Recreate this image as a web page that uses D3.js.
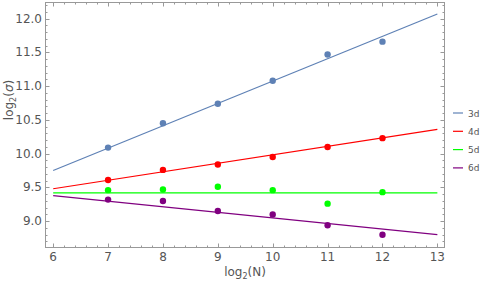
<!DOCTYPE html>
<html>
<head>
<meta charset="utf-8">
<script src="https://cdn.jsdelivr.net/npm/d3@7"></script>
<style>
body { margin: 0; background: #fff; }
text { font-family: "DejaVu Sans", sans-serif; }
</style>
</head>
<body>
<script>
var w = 481;
var h = 281;

var series = ["3d", "4d", "5d", "6d"];
var colors = ["#5e81b5", "#ff0000", "#00ff00", "#800080"];
var xs = [7, 8, 9, 10, 11, 12];
var vals = [
    [10.09, 10.45, 10.74, 11.08, 11.47, 11.66],
    [9.61, 9.76, 9.84, 9.95, 10.10, 10.23],
    [9.46, 9.47, 9.51, 9.46, 9.26, 9.43],
    [9.32, 9.30, 9.15, 9.10, 8.94, 8.80]
];
// fitted lines, value at x=6 and x=13
var fitX = [6, 13];
var fitStart = [9.75, 9.48, 9.42, 9.38];
var fitEnd = [12.07, 10.36, 9.42, 8.80];

var xTicks = [6, 7, 8, 9, 10, 11, 12, 13];
var yTicks = [9.0, 9.5, 10.0, 10.5, 11.0, 11.5, 12.0];

var svg = d3.select("body")
            .append("svg")
            .attr("width", w)
            .attr("height", h);

var x = d3.scaleLinear().domain([5.86, 13.13]).range([45.5, 444.5]);
var y = d3.scaleLinear().domain([8.61, 12.24]).range([247.5, 2.5]);

var axisCol = "#999";
var labCol = "#555";

// frame
svg.append("rect")
    .attr("x", x.range()[0]).attr("y", y.range()[1])
    .attr("width", x.range()[1] - x.range()[0])
    .attr("height", y.range()[0] - y.range()[1])
    .attr("fill", "none").attr("stroke", axisCol).attr("stroke-width", 1);

// minor/major ticks on all four sides, pointing inward
var xMinor = d3.range(5.8, 13.21, 0.2).filter(function(v){ return v >= 5.86 && v <= 13.13; });
var yMinor = d3.range(8.6, 12.25, 0.1).filter(function(v){ return v >= 8.61 && v <= 12.24; });
function isMajor(v, step) { return Math.abs(v / step - Math.round(v / step)) < 1e-6; }

var g = svg.append("g").attr("stroke", axisCol).attr("stroke-width", 1);
xMinor.forEach(function(v){
    var len = isMajor(v, 1) ? 4 : 2;
    var px = Math.round(x(v)) + 0.5;
    g.append("line").attr("x1", px).attr("x2", px).attr("y1", y.range()[0]).attr("y2", y.range()[0] - len);
    g.append("line").attr("x1", px).attr("x2", px).attr("y1", y.range()[1]).attr("y2", y.range()[1] + len);
});
yMinor.forEach(function(v){
    var len = isMajor(v, 0.5) ? 4 : 2;
    var py = Math.round(y(v)) + 0.5;
    g.append("line").attr("y1", py).attr("y2", py).attr("x1", x.range()[0]).attr("x2", x.range()[0] + len);
    g.append("line").attr("y1", py).attr("y2", py).attr("x1", x.range()[1]).attr("x2", x.range()[1] - len);
});

// tick labels
svg.selectAll("text.xt")
    .data(xTicks)
    .enter()
    .append("text")
    .attr("class", "xt")
    .attr("x", function(d){ return x(d); })
    .attr("y", 261)
    .attr("text-anchor", "middle")
    .attr("font-size", 12)
    .attr("fill", labCol)
    .text(function(d){ return d; });

svg.selectAll("text.yt")
    .data(yTicks)
    .enter()
    .append("text")
    .attr("class", "yt")
    .attr("x", 42)
    .attr("y", function(d){ return y(d) + 4; })
    .attr("text-anchor", "end")
    .attr("font-size", 12)
    .attr("fill", labCol)
    .text(function(d){ return d.toFixed(1); });

// axis labels
var xl = svg.append("text")
    .attr("x", 245).attr("y", 276)
    .attr("text-anchor", "middle")
    .attr("font-size", 12)
    .attr("fill", labCol);
xl.append("tspan").text("log");
xl.append("tspan").attr("font-size", 8).attr("dy", 3).text("2");
xl.append("tspan").attr("dy", -3).text("(N)");

var yl = svg.append("text")
    .attr("transform", "translate(13,100) rotate(-90)")
    .attr("text-anchor", "middle")
    .attr("font-size", 12)
    .attr("fill", labCol);
yl.append("tspan").text("log");
yl.append("tspan").attr("font-size", 8).attr("dy", 3).text("2");
yl.append("tspan").attr("dy", -3).text("(");
yl.append("tspan").attr("font-style", "italic").text("σ");
yl.append("tspan").text(")");

// fit lines
series.forEach(function(s, i){
    svg.append("line")
        .attr("x1", x(fitX[0])).attr("y1", y(fitStart[i]))
        .attr("x2", x(fitX[1])).attr("y2", y(fitEnd[i]))
        .attr("stroke", colors[i])
        .attr("stroke-width", 1.2);
});

// points
series.forEach(function(s, i){
    svg.selectAll("circle.s" + i)
        .data(vals[i])
        .enter()
        .append("circle")
        .attr("class", "s" + i)
        .attr("cx", function(d, j){ return x(xs[j]); })
        .attr("cy", function(d){ return y(d); })
        .attr("r", 3.2)
        .attr("fill", colors[i]);
});

// legend
var lg = svg.selectAll("g.leg")
    .data(series)
    .enter()
    .append("g")
    .attr("class", "leg")
    .attr("transform", function(d, i){ return "translate(453," + (113 + i * 18.3) + ")"; });
lg.append("line")
    .attr("x1", 0).attr("x2", 10)
    .attr("stroke", function(d, i){ return colors[i]; })
    .attr("stroke-width", 1.2);
lg.append("text")
    .attr("x", 15).attr("y", 3.5)
    .attr("font-size", 9)
    .attr("fill", labCol)
    .text(function(d){ return d; });
</script>
</body>
</html>
